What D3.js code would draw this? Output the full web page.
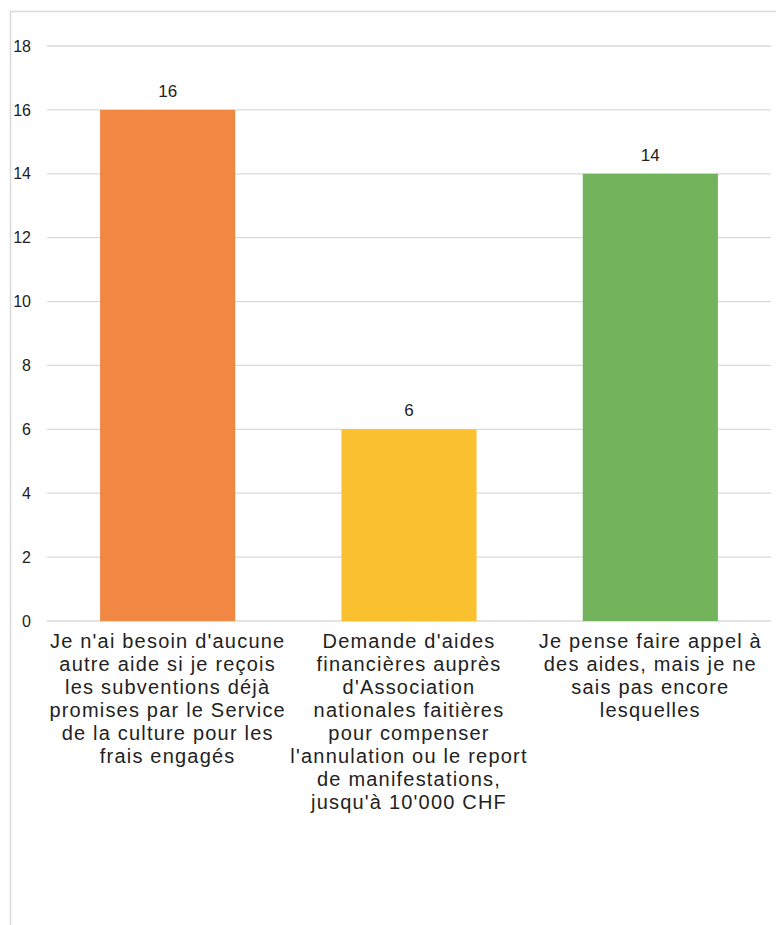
<!DOCTYPE html>
<html><head><meta charset="utf-8">
<script src="https://cdn.jsdelivr.net/npm/d3@7"></script>
<style>body{margin:0;background:#fff}svg{display:block}</style>
</head><body>
<script>
const categories = [
  ["Je n'ai besoin d'aucune","autre aide si je reçois","les subventions déjà","promises par le Service","de la culture pour les","frais engagés"],
  ["Demande d'aides","financières auprès","d'Association","nationales faitières","pour compenser","l'annulation ou le report","de manifestations,","jusqu'à 10'000 CHF"],
  ["Je pense faire appel à","des aides, mais je ne","sais pas encore","lesquelles"]
];
const values = [16, 6, 14];
const colors = ["#F08743", "#FBC02F", "#73B35B"];
const yTicks = [0, 2, 4, 6, 8, 10, 12, 14, 16, 18];

const W = 776, H = 925;
const svg = d3.select("body").append("svg").attr("width", W).attr("height", H);
svg.append("rect").attr("x", 10.5).attr("y", 11.5).attr("width", W).attr("height", H)
  .attr("fill", "none").attr("stroke", "#d9d9d9").attr("stroke-width", 1.5);

const x0 = 47, x1 = 771, yTop = 46, yBot = 621;
const x = d3.scaleBand().domain(d3.range(values.length)).range([x0, x1]).paddingInner(0.44).paddingOuter(0.22);
const y = d3.scaleLinear().domain([0, 18]).range([yBot, yTop]);

const g = svg.append("g");
g.selectAll("line.grid").data(yTicks).join("line")
  .attr("x1", x0).attr("x2", x1).attr("y1", d => y(d)).attr("y2", d => y(d))
  .attr("stroke", "#d9d9d9").attr("stroke-width", 1.3);

const yAxis = d3.axisLeft(y).tickValues(yTicks).tickSize(0).tickPadding(0);
const ya = svg.append("g").attr("transform", `translate(31,0)`).call(yAxis);
ya.select(".domain").remove();
ya.selectAll("text").attr("font-family", "Liberation Sans, Arial, sans-serif").attr("font-size", 16).attr("fill", "#222");

g.selectAll("rect.bar").data(values).join("rect")
  .attr("x", (d, i) => x(i)).attr("width", x.bandwidth())
  .attr("y", d => y(d)).attr("height", d => y(0) - y(d))
  .attr("fill", (d, i) => colors[i]);

g.selectAll("text.val").data(values).join("text")
  .attr("x", (d, i) => x(i) + x.bandwidth() / 2).attr("y", d => y(d) - 13)
  .attr("text-anchor", "middle").attr("font-family", "Liberation Sans, Arial, sans-serif")
  .attr("font-size", 17).attr("fill", "#222").text(d => d);

const xl = svg.append("g");
categories.forEach((lines, i) => {
  const t = xl.append("text").attr("text-anchor", "middle")
    .attr("font-family", "Liberation Sans, Arial, sans-serif").attr("font-size", 20)
    .attr("letter-spacing", 1.2).attr("fill", "#222");
  lines.forEach((ln, j) => {
    t.append("tspan").attr("x", x(i) + x.bandwidth() / 2).attr("y", 648 + j * 23).text(ln);
  });
});
</script>
</body></html>
